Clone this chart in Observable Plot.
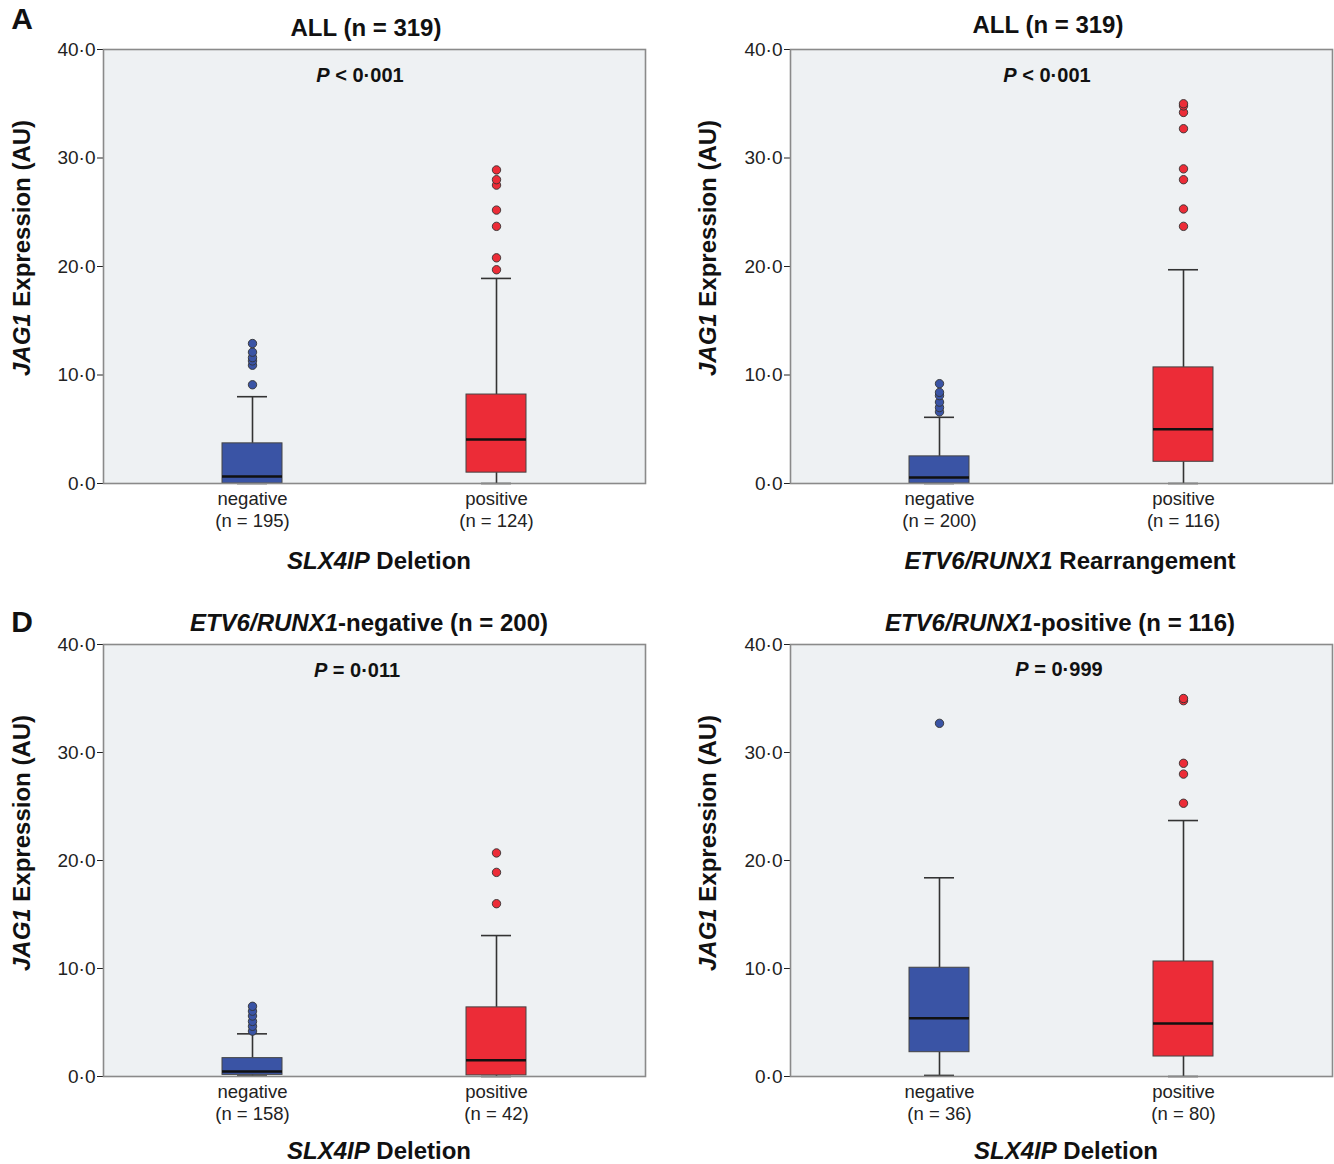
<!DOCTYPE html>
<html><head><meta charset="utf-8">
<script src="https://cdn.jsdelivr.net/npm/d3@7"></script>
<script src="https://cdn.jsdelivr.net/npm/@observablehq/plot@0.6"></script>
<style>
body{margin:0;background:#fff;font-family:"Liberation Sans",Arial,Helvetica,sans-serif;}
#fig{position:relative;width:1334px;height:1164px;overflow:hidden;background:#fff;}
.abs{position:absolute;}
.t{position:absolute;font-weight:bold;white-space:nowrap;transform:translate(-50%,-50%);color:#111;line-height:1;}
.rot{transform:translate(-50%,-50%) rotate(-90deg);}
</style></head><body><div id="fig"></div><script>
// ---- data ----
const groups = ["negative", "positive"];
const panelLetters = ["A", "", "D", ""];
const panelTitles = ["ALL (n = 319)", "ALL (n = 319)", "ETV6/RUNX1-negative (n = 200)", "ETV6/RUNX1-positive (n = 116)"];
const pValues = ["P < 0·001", "P < 0·001", "P = 0·011", "P = 0·999"];
const xTitles = ["SLX4IP Deletion", "ETV6/RUNX1 Rearrangement", "SLX4IP Deletion", "SLX4IP Deletion"];
const yTitle = "JAG1 Expression (AU)";
const yTicks = [0, 10, 20, 30, 40];
const groupN = [[195, 124], [200, 116], [158, 42], [36, 80]];
const whiskerLow = [[0, 0], [0, 0], [0.05, 0], [0.1, 0]];
const q1 = [[0, 1.0], [0, 2.0], [0.15, 0.1], [2.25, 1.85]];
const median = [[0.65, 4.05], [0.55, 5.0], [0.46, 1.5], [5.4, 4.9]];
const q3 = [[3.7, 8.2], [2.5, 10.7], [1.7, 6.4], [10.07, 10.65]];
const whiskerHigh = [[8.0, 18.9], [6.1, 19.7], [3.95, 13.05], [18.4, 23.7]];
const outliers = [
  [[9.1, 10.9, 11.3, 11.6, 12.1, 12.9], [19.7, 20.8, 23.7, 25.2, 27.5, 28.0, 28.9]],
  [[6.6, 7.0, 7.5, 8.1, 8.4, 9.2], [23.7, 25.3, 28.0, 29.0, 32.7, 34.2, 34.8, 35.0]],
  [[4.2, 4.65, 5.1, 5.6, 6.05, 6.5], [16.0, 18.9, 20.7]],
  [[32.7], [25.3, 28.0, 29.0, 34.8, 35.0]]
];
const groupColors = ["#3a54a5", "#ec2c37"];

// ---- layout ----
const fig = document.getElementById("fig");
const italicize = s => s.replace(/(SLX4IP|ETV6\/RUNX1|JAG1|^P(?= ))/g, "<i>$1</i>");
function addText(html, x, y, size, cls = "") {
  const d = document.createElement("div");
  d.className = "t " + cls;
  d.style.left = x + "px"; d.style.top = y + "px"; d.style.fontSize = size + "px";
  d.innerHTML = html;
  fig.appendChild(d);
}
const titlePos = [[366, 28], [1048, 25], [369, 623], [1060, 623]];
const pPos = [[360, 75], [1047, 75], [357, 670], [1059, 669]];
const xTitlePos = [[379, 561], [1070, 561], [379, 1151], [1066, 1151]];
const yTitlePos = [[22, 248], [708, 248], [22, 843], [708, 843]];
const letterPos = [[22, 19], null, [22, 622], null];

for (let i = 0; i < 4; i++) {
  const col = i % 2, row = Math.floor(i / 2);
  const left = col ? 690 : 0, top = row ? 595 : 0;
  const marginLeft = col ? 100 : 103;
  const width = col ? 644 : 650;
  const marginRight = col ? 2 : 5;
  const marginBottom = row ? 59 : 57;
  const data = groups.map((g, j) => ({
    g, low: whiskerLow[i][j], q1: q1[i][j], med: median[i][j], q3: q3[i][j], high: whiskerHigh[i][j],
    label: `${g}\n(n = ${groupN[i][j]})`
  }));
  const outs = groups.flatMap((g, j) => outliers[i][j].map(v => ({g, v})));
  const plot = Plot.plot({
    width, height: 540, marginLeft, marginRight, marginTop: 49, marginBottom,
    x: {domain: groups, paddingInner: 0.755, paddingOuter: 0.4855, axis: null},
    y: {domain: [0, 40], axis: null},
    color: {domain: groups, range: groupColors},
    style: {fontFamily: "Liberation Sans, Arial, sans-serif", fontSize: "18px", background: "transparent", overflow: "visible"},
    marks: [
      Plot.frame({fill: "#eef1f3", stroke: null}),
      Plot.axisY({ticks: yTicks, tickFormat: d => d.toFixed(1).replace(".", "·"), tickSize: 6, tickPadding: 2, fontSize: 19, label: null, color: "#222"}),
      Plot.ruleX(data, {x: "g", y1: "low", y2: "q1", stroke: "#333", strokeWidth: 1.6}),
      Plot.ruleX(data, {x: "g", y1: "q3", y2: "high", stroke: "#333", strokeWidth: 1.6}),
      Plot.tickY(data, {x: "g", y: "high", insetLeft: 15, insetRight: 15, stroke: "#333", strokeWidth: 1.6}),
      Plot.tickY(data, {x: "g", y: "low", insetLeft: 15, insetRight: 15, stroke: "#333", strokeWidth: 1.6}),
      Plot.barY(data, {x: "g", y1: "q1", y2: "q3", fill: "g", stroke: "#444", strokeWidth: 1}),
      Plot.tickY(data, {x: "g", y: "med", stroke: "#111", strokeWidth: 2.5}),
      Plot.dot(outs, {x: "g", y: "v", fill: "g", stroke: "#333", strokeWidth: 0.9, r: 4.2}),
      Plot.text(data, {x: "g", text: "label", frameAnchor: "bottom", lineAnchor: "top", dy: 6, fontSize: 18.5, lineHeight: 1.18, fill: "#222"}),
      Plot.frame({stroke: "#8a8a8a", strokeWidth: 1.6})
    ]
  });
  const wrap = document.createElement("div");
  wrap.className = "abs";
  wrap.style.left = left + "px"; wrap.style.top = top + "px";
  wrap.appendChild(plot);
  fig.appendChild(wrap);

  addText(italicize(panelTitles[i]), titlePos[i][0], titlePos[i][1], 24);
  addText(italicize(pValues[i]), pPos[i][0], pPos[i][1], 20);
  addText(italicize(xTitles[i]), xTitlePos[i][0], xTitlePos[i][1], 24);
  addText(italicize(yTitle), yTitlePos[i][0], yTitlePos[i][1], 24, "rot");
  if (panelLetters[i]) addText(panelLetters[i], letterPos[i][0], letterPos[i][1], 30);
}
</script></body></html>
